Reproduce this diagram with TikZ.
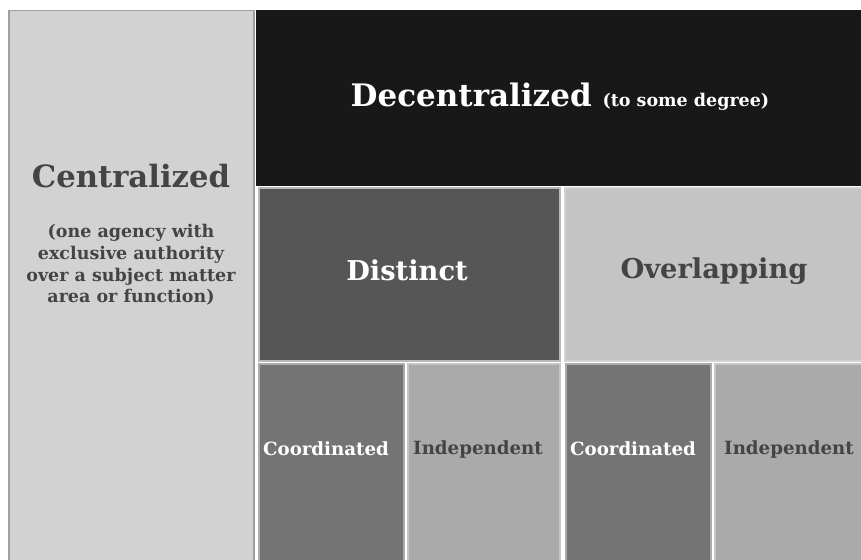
\documentclass[tikz,border=0pt]{standalone}
\usepackage{fontspec}
\setmainfont{DejaVu Serif}

\definecolor{cellblack}{HTML}{181818}
\definecolor{celldark}{HTML}{565656}
\definecolor{cellmid}{HTML}{747474}
\definecolor{celllight}{HTML}{AAAAAA}
\definecolor{cellpale}{HTML}{C4C4C4}
\definecolor{cellside}{HTML}{D2D2D2}
\definecolor{inkdark}{HTML}{444444}

\tikzset{
  cell/.style={draw=#1, line width=1.5pt, inner sep=0pt, anchor=north west},
  lbl/.style={font=\bfseries, align=center, inner sep=0pt}
}

\begin{document}
\begin{tikzpicture}[x=1pt, y=-1pt]

  % --- canvas ---
  \fill[white] (0,0) rectangle (861,559);
  \useasboundingbox (0,0) rectangle (861,559);

  % --- centralized (left column) ---
  \node[cell=gray!75, fill=cellside, minimum width=245pt, minimum height=552pt] (cent) at (8,10) {};
  \node[lbl, text=inkdark, font=\bfseries\fontsize{30.7}{36}\selectfont] (centtxt) at (131,176) {Centralized};
  \node[lbl, text=inkdark, font=\bfseries\fontsize{17.5}{21.8}\selectfont] (centsub) at (131,265)
    {(one agency with\\exclusive authority\\over a subject matter\\area or function)};

  % --- decentralized (top band) ---
  \node[cell=cellblack, fill=cellblack, minimum width=606pt, minimum height=174pt] (dec) at (256,10) {};
  \node[lbl, text=white] (dectxt) at (560,97)
    {\fontsize{31}{36}\selectfont Decentralized \fontsize{17.5}{20}\selectfont(to some degree)};

  % --- distinct / overlapping ---
  \node[cell=gray!55, fill=celldark, minimum width=301pt, minimum height=173pt] (dist) at (258,187) {};
  \node[lbl, text=white, font=\bfseries\fontsize{27.3}{32}\selectfont] (disttxt) at (407,270) {Distinct};

  \node[cell=gray!35, fill=cellpale, minimum width=298pt, minimum height=173pt] (over) at (564,187) {};
  \node[lbl, text=inkdark, font=\bfseries\fontsize{27.3}{32}\selectfont] (overtxt) at (714,271) {Overlapping};

  % --- bottom row ---
  \node[cell=gray!65, fill=cellmid, minimum width=145pt, minimum height=200pt] (coordA) at (258,363) {};
  \node[cell=gray!45, fill=celllight, minimum width=152pt, minimum height=200pt] (indepA) at (407,363) {};
  \node[cell=gray!65, fill=cellmid, minimum width=145pt, minimum height=200pt] (coordB) at (565,363) {};
  \node[cell=gray!45, fill=celllight, minimum width=150pt, minimum height=200pt] (indepB) at (714,363) {};

  \node[lbl, text=white, font=\bfseries\fontsize{18.2}{22}\selectfont] (coordAtxt) at (326,449) {Coordinated};
  \node[lbl, text=inkdark, font=\bfseries\fontsize{18.2}{22}\selectfont] (indepAtxt) at (478,449) {Independent};
  \node[lbl, text=white, font=\bfseries\fontsize{18.2}{22}\selectfont] (coordBtxt) at (633,449) {Coordinated};
  \node[lbl, text=inkdark, font=\bfseries\fontsize{18.2}{22}\selectfont] (indepBtxt) at (789,449) {Independent};

\end{tikzpicture}
\end{document}
